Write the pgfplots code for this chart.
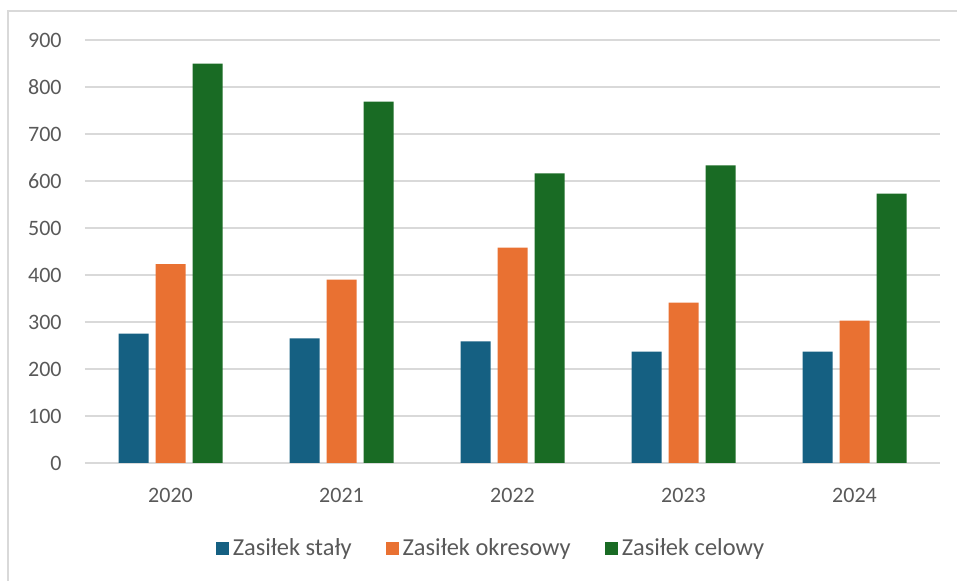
\documentclass[border=0pt]{standalone}
\usepackage{fontspec}
\setmainfont{Carlito}
\usepackage{pgfplots}
\pgfplotsset{compat=1.18}
\definecolor{cBlue}{HTML}{156082}
\definecolor{cOrange}{HTML}{E97132}
\definecolor{cGreen}{HTML}{196B24}
\definecolor{cGrid}{HTML}{D9D9D9}
\definecolor{cText}{HTML}{595959}

% values per year 2020..2024
\pgfplotstableread{
x stal okres cel
0 275 423 850
1 265 390 769
2 259 458 616
3 237 341 633
4 237 303 573
}\dane

\begin{document}
\begin{tikzpicture}
\path[use as bounding box] (-42.5pt,-59pt) rectangle (436pt,231.5pt);
\draw[cGrid, line width=1pt] (-38.5pt,-59pt) -- (-38.5pt,226pt) -- (436pt,226pt);
\begin{axis}[
    at={(0,0)}, anchor=south west,
    scale only axis,
    width=427.5pt, height=211.5pt,
    ybar, bar width=15pt,
    xmin=-0.5, xmax=4.5,
    ymin=0, ymax=900,
    xtick=data,
    xticklabels={2020,2021,2022,2023,2024},
    ytick={0,100,...,900},
    major tick length=0pt,
    axis line style={draw=none},
    ymajorgrids,
    grid style={cGrid, line width=1pt},
    /pgf/number format/assume math mode=true,
    tick label style={text=cText, font=\fontsize{11}{13}\selectfont},
    xticklabel style={anchor=center, inner sep=0pt, yshift=-16pt},
    yticklabel style={anchor=east, inner sep=0pt, xshift=-11.5pt},
    legend style={at={(0.476,-0.203)}, anchor=center, draw=none,
      legend columns=-1, text=cText, font=\fontsize{12.2}{14}\selectfont,
      /tikz/every even column/.append style={column sep=15pt}},
    legend image code/.code={\fill[#1] (0pt,-3.25pt) rectangle (6.5pt,3.25pt);},
  ]
\addplot[fill=cBlue, draw=none, bar shift=-18.5pt] table[x=x, y=stal] {\dane};
\addplot[fill=cOrange, draw=none, bar shift=0pt] table[x=x, y=okres] {\dane};
\addplot[fill=cGreen, draw=none, bar shift=18.5pt] table[x=x, y=cel] {\dane};
\legend{Zasiłek stały, Zasiłek okresowy, Zasiłek celowy}
\end{axis}
\end{tikzpicture}
\end{document}
